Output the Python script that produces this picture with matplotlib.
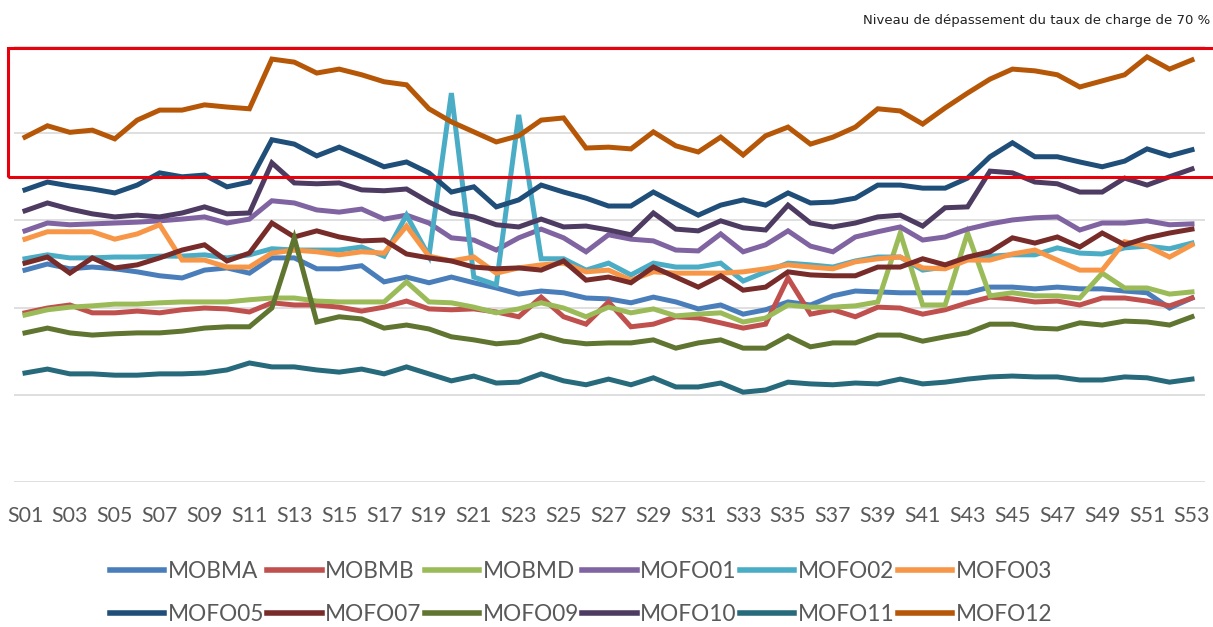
import numpy as np
import matplotlib
matplotlib.use('Agg')
import matplotlib.pyplot as plt
from matplotlib.patches import Rectangle

# weekly load rate (%) per site, weeks S01..S53
weeks = ['S%02d' % i for i in range(1, 54)]

MOBMA = [48.6, 50.0, 48.9, 49.3, 48.9, 48.2, 47.3, 46.8, 48.6, 49.1,
         47.9, 51.4, 51.4, 48.9, 48.9, 49.6, 45.9, 47.0, 45.7, 47.0,
         45.7, 44.5, 43.1, 43.8, 43.4, 42.2, 42.0, 41.1, 42.4, 41.3,
         39.7, 40.6, 38.5, 39.5, 41.3, 40.6, 42.7, 43.8, 43.6, 43.4,
         43.4, 43.4, 43.4, 44.7, 44.7, 44.3, 44.7, 44.3, 44.3, 43.8,
         43.4, 39.9, 42.2]
MOBMB = [38.8, 39.9, 40.6, 38.8, 38.8, 39.2, 38.8, 39.5, 39.9, 39.7,
         39.0, 41.1, 40.6, 40.6, 40.1, 39.2, 40.1, 41.5, 39.7, 39.5,
         39.7, 39.0, 37.9, 42.4, 37.9, 36.2, 41.3, 35.6, 36.2, 37.9,
         37.6, 36.5, 35.3, 36.2, 46.8, 38.5, 39.5, 37.9, 40.1, 39.9,
         38.5, 39.5, 41.1, 42.4, 42.0, 41.3, 41.5, 40.6, 42.2, 42.2,
         41.5, 40.4, 42.2]
MOBMD = [38.3, 39.5, 40.1, 40.4, 40.8, 40.8, 41.1, 41.3, 41.3, 41.3,
         41.8, 42.2, 42.2, 41.5, 41.3, 41.3, 41.3, 45.9, 41.3, 41.1,
         40.1, 38.8, 39.7, 41.1, 39.9, 37.9, 40.1, 38.8, 39.7, 38.1,
         38.5, 38.8, 36.7, 37.6, 40.6, 40.1, 40.1, 40.4, 41.3, 57.1,
         40.6, 40.6, 57.1, 42.7, 43.4, 42.7, 42.7, 42.2, 47.9, 44.5,
         44.5, 43.1, 43.6]
MOFO01 = [57.6, 59.4, 59.0, 59.2, 59.4, 59.6, 59.9, 60.3, 60.8, 59.4,
          60.3, 64.5, 64.0, 62.4, 61.9, 62.6, 60.3, 61.2, 59.4, 56.0,
          55.5, 53.2, 56.0, 58.0, 56.0, 52.8, 56.7, 55.7, 55.3, 53.2,
          53.0, 56.9, 52.8, 54.4, 57.6, 54.1, 52.8, 56.2, 57.4, 58.5,
          55.5, 56.2, 58.0, 59.2, 60.1, 60.6, 60.8, 57.8, 59.4, 59.4,
          59.9, 59.0, 59.2]
MOFO02 = [51.2, 52.1, 51.4, 51.4, 51.6, 51.6, 51.8, 51.8, 52.1, 51.4,
          52.1, 53.5, 53.2, 53.2, 53.2, 53.9, 51.8, 61.2, 51.8, 89.2,
          47.0, 45.2, 84.2, 51.2, 51.2, 48.6, 50.2, 47.5, 50.2, 49.3,
          49.3, 50.2, 46.1, 48.2, 50.2, 49.8, 49.3, 50.7, 51.6, 51.6,
          48.6, 49.3, 51.4, 51.8, 52.1, 52.1, 53.7, 52.5, 52.3, 53.7,
          54.1, 53.5, 54.8]
MOFO03 = [55.7, 57.4, 57.4, 57.4, 55.7, 56.9, 59.0, 50.9, 50.9, 49.3,
          49.3, 52.5, 53.2, 52.8, 52.1, 52.8, 52.5, 58.7, 51.8, 50.7,
          51.6, 47.9, 49.1, 49.8, 50.2, 48.2, 48.6, 46.3, 48.2, 47.9,
          47.9, 47.9, 48.2, 48.9, 49.8, 49.3, 48.9, 50.5, 51.2, 51.6,
          49.1, 48.9, 50.9, 50.9, 52.3, 53.2, 50.9, 48.6, 48.6, 55.1,
          54.1, 51.6, 54.4]
MOFO05 = [67.0, 68.8, 67.9, 67.2, 66.3, 68.1, 70.9, 70.0, 70.4, 67.7,
          68.8, 78.5, 77.5, 74.8, 76.8, 74.6, 72.3, 73.4, 70.9, 66.5,
          67.7, 63.1, 64.7, 68.1, 66.5, 65.1, 63.3, 63.3, 66.5, 63.8,
          61.2, 63.5, 64.7, 63.5, 66.3, 64.0, 64.2, 65.1, 68.1, 68.1,
          67.4, 67.4, 69.7, 74.6, 77.8, 74.6, 74.6, 73.4, 72.3, 73.6,
          76.4, 74.8, 76.2]
MOFO07 = [50.2, 51.6, 47.9, 51.4, 49.1, 49.8, 51.4, 53.2, 54.4, 50.7,
          52.5, 59.4, 56.2, 57.6, 56.2, 55.3, 55.5, 52.3, 51.4, 50.7,
          49.3, 48.9, 49.1, 48.6, 50.7, 46.3, 47.0, 45.7, 49.3, 47.0,
          44.7, 47.3, 44.0, 44.7, 48.2, 47.5, 47.3, 47.3, 49.3, 49.3,
          51.2, 49.8, 51.6, 52.8, 56.0, 54.8, 56.2, 53.9, 57.1, 54.4,
          56.0, 57.1, 58.0]
MOFO09 = [34.2, 35.3, 34.2, 33.7, 34.0, 34.2, 34.2, 34.6, 35.3, 35.6,
          35.6, 39.9, 56.0, 36.7, 37.9, 37.4, 35.3, 36.0, 35.1, 33.3,
          32.6, 31.7, 32.1, 33.7, 32.3, 31.7, 31.9, 31.9, 32.6, 30.7,
          31.9, 32.6, 30.7, 30.7, 33.5, 31.0, 31.9, 31.9, 33.7, 33.7,
          32.3, 33.3, 34.2, 36.2, 36.2, 35.3, 35.1, 36.5, 36.0, 36.9,
          36.7, 36.0, 37.9]
MOFO10 = [62.2, 64.0, 62.6, 61.5, 60.8, 61.2, 60.8, 61.7, 63.1, 61.5,
          61.7, 73.2, 68.6, 68.4, 68.6, 67.0, 66.8, 67.2, 64.2, 61.7,
          60.8, 59.0, 58.5, 60.3, 58.5, 58.7, 57.8, 56.7, 61.7, 58.0,
          57.6, 59.9, 58.3, 57.8, 63.5, 59.4, 58.5, 59.4, 60.8, 61.2,
          58.7, 62.9, 63.1, 71.3, 70.9, 68.8, 68.4, 66.5, 66.5, 69.7,
          68.1, 70.0, 71.8]
MOFO11 = [25.0, 25.9, 24.8, 24.8, 24.5, 24.5, 24.8, 24.8, 25.0, 25.7,
          27.3, 26.4, 26.4, 25.7, 25.2, 25.9, 24.8, 26.4, 24.8, 23.2,
          24.3, 22.7, 22.9, 24.8, 23.2, 22.3, 23.6, 22.3, 23.9, 21.8,
          21.8, 22.7, 20.6, 21.1, 22.9, 22.5, 22.3, 22.7, 22.5, 23.6,
          22.5, 22.9, 23.6, 24.1, 24.3, 24.1, 24.1, 23.4, 23.4, 24.1,
          23.9, 22.9, 23.6]
MOFO12 = [79.1, 81.7, 80.2, 80.7, 78.7, 83.0, 85.3, 85.3, 86.5, 86.0,
          85.6, 97.0, 96.3, 93.8, 94.7, 93.4, 91.8, 91.1, 85.6, 82.6,
          80.3, 78.0, 79.4, 83.0, 83.5, 76.6, 76.8, 76.4, 80.3, 77.1,
          75.7, 79.1, 75.0, 79.4, 81.4, 77.5, 79.1, 81.4, 85.6, 85.1,
          82.1, 85.8, 89.2, 92.4, 94.7, 94.3, 93.4, 90.6, 92.0, 93.4,
          97.5, 94.7, 96.8]

names = ['MOBMA', 'MOBMB', 'MOBMD', 'MOFO01', 'MOFO02', 'MOFO03',
         'MOFO05', 'MOFO07', 'MOFO09', 'MOFO10', 'MOFO11', 'MOFO12']
series = [MOBMA, MOBMB, MOBMD, MOFO01, MOFO02, MOFO03,
          MOFO05, MOFO07, MOFO09, MOFO10, MOFO11, MOFO12]
colors = ['#4A7EBB', '#C0504D', '#9BBB59', '#8064A2', '#4BACC6', '#F79646',
          '#1F4E79', '#772C2A', '#5F7530', '#4D3B62', '#276A7C', '#B65708']

threshold = 70

plt.rcParams['font.family'] = ['Lato', 'DejaVu Sans']

fig = plt.figure(figsize=(12.13, 6.27), dpi=100)
ax = fig.add_axes([14/1213, 145/627, 1191/1213, 436/627])

x = np.arange(1, 54)
lines = []
for name, vals, col in zip(names, series, colors):
    ln, = ax.plot(x, vals, color=col, lw=3.6, solid_joinstyle='miter', label=name)
    lines.append(ln)

ax.set_xlim(0.51, 53.58)
ax.set_ylim(0, 100)
for v in range(0, 101, 20):
    ax.axhline(v, color='#D9D9D9', lw=1.2, zorder=0)

ax.set_yticks([])
ax.set_xticks(x[::2])
ax.set_xticklabels(weeks[::2], fontsize=15.4, color='#595959')
ax.tick_params(axis='x', length=0, pad=17)
for s in ax.spines.values():
    s.set_visible(False)

# frame marking the part above the 70 % load threshold
rect = Rectangle((0.24, threshold), 60, 99.5 - threshold, fill=False,
                 edgecolor='#E8000B', lw=2.2, clip_on=False, zorder=5)
ax.add_patch(rect)

fig.text(0.9975, 0.968, 'Niveau de dépassement du taux de charge de 70 %',
         ha='right', va='center', fontsize=9.5, color='#222222',
         family='DejaVu Sans')

# two legend rows: first six series on top, last six below
order = []
for i in range(6):
    order += [lines[i], lines[i + 6]]
fig.legend(order, [l.get_label() for l in order], ncol=6,
           loc='center', bbox_to_anchor=(581/1213, 1 - 593/627),
           frameon=False, fontsize=16.3, handlelength=2.4, handletextpad=0.15,
           columnspacing=0.15, labelspacing=0.95, labelcolor='#595959')
for lh in fig.legends[0].get_lines():
    lh.set_linewidth(4)

fig.savefig('out.png', dpi=100)
